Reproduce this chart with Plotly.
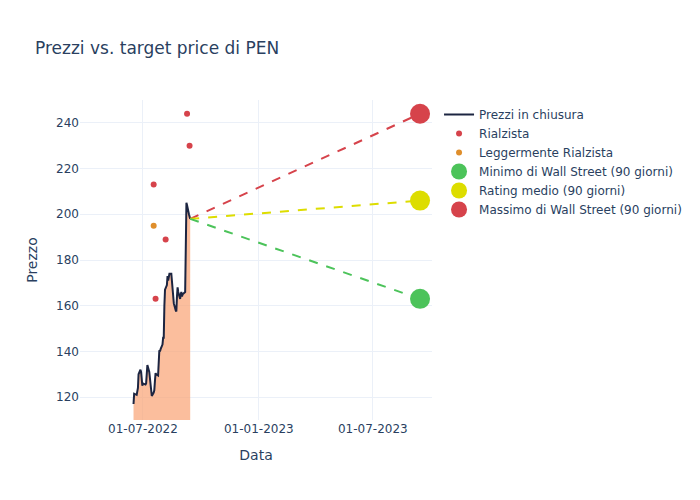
import plotly.graph_objects as go

price_dates = ["2022-06-16","2022-06-17","2022-06-21","2022-06-22","2022-06-23","2022-06-24",
    "2022-06-27","2022-06-28","2022-06-29","2022-06-30","2022-07-01","2022-07-05","2022-07-06",
    "2022-07-07","2022-07-08","2022-07-11","2022-07-12","2022-07-13","2022-07-14","2022-07-15",
    "2022-07-18","2022-07-19","2022-07-20","2022-07-21","2022-07-22","2022-07-25","2022-07-26",
    "2022-07-27","2022-07-28","2022-07-29","2022-08-01","2022-08-02","2022-08-03","2022-08-04",
    "2022-08-05","2022-08-08","2022-08-09","2022-08-10","2022-08-11","2022-08-12","2022-08-15",
    "2022-08-16","2022-08-17","2022-08-18","2022-08-19","2022-08-22","2022-08-23","2022-08-24",
    "2022-08-25","2022-08-26","2022-08-29","2022-08-30","2022-08-31","2022-09-01","2022-09-02",
    "2022-09-06","2022-09-07","2022-09-08","2022-09-09","2022-09-12","2022-09-13","2022-09-14"]
price_values = [117,121.5,121,123,124,130,
    132,131,127,125,126,125.5,126,
    130,134,131,128,125,121,120.5,
    122,123,127,130.5,130,129.5,134,
    140.5,140,141,143,146,146,160,
    167,169,173,171,172,174,174,
    170,166,163,161,158,157.5,164,
    168,166,163,165,166,164,165,
    166,186,205,204,200,198,198]

bull_dates = ["2022-09-09","2022-09-13","2022-07-18","2022-08-06","2022-07-21"]
bull_values = [244,230,213,189,163]
mild_dates = ["2022-07-18"]
mild_values = [195]

target_date = "2023-09-14"
target_min = 163
target_avg = 206
target_max = 244

RED = "#d6434b"
GREEN = "#4cc35a"
YELLOW = "#dddd00"
ORANGE = "#df8e2b"

fig = go.Figure()
fig.add_trace(go.Scatter(x=price_dates, y=price_values, mode="none", showlegend=False,
    fill="tozeroy", fillcolor="rgba(250,162,115,0.7)", hoverinfo="skip"))
fig.add_trace(go.Scatter(x=price_dates, y=price_values, mode="lines", name="Prezzi in chiusura",
    line=dict(color="#1c2541", width=2)))
fig.add_trace(go.Scatter(x=bull_dates, y=bull_values, mode="markers", name="Rialzista",
    marker=dict(color=RED, size=6)))
fig.add_trace(go.Scatter(x=mild_dates, y=mild_values, mode="markers", name="Leggermente Rialzista",
    marker=dict(color=ORANGE, size=6)))
last_d = price_dates[-1]
last_v = price_values[-1]
for tv, col in [(target_max, RED), (target_avg, YELLOW), (target_min, GREEN)]:
    fig.add_trace(go.Scatter(x=[last_d, target_date], y=[last_v, tv], mode="lines",
        line=dict(color=col, width=2, dash="dash"), showlegend=False, hoverinfo="skip"))
fig.add_trace(go.Scatter(x=[target_date], y=[target_min], mode="markers", name="Minimo di Wall Street (90 giorni)",
    marker=dict(color=GREEN, size=20)))
fig.add_trace(go.Scatter(x=[target_date], y=[target_avg], mode="markers", name="Rating medio (90 giorni)",
    marker=dict(color=YELLOW, size=20)))
fig.add_trace(go.Scatter(x=[target_date], y=[target_max], mode="markers", name="Massimo di Wall Street (90 giorni)",
    marker=dict(color=RED, size=20)))

fig.update_layout(
    template="plotly_white",
    width=700, height=500,
    margin=dict(l=72, r=276, t=92, b=88, autoexpand=False),
    font=dict(family="DejaVu Sans"),
    title=dict(text="Prezzi vs. target price di PEN", x=27/700),
    xaxis=dict(title="Data", tickformat="%d-%m-%Y", range=["2022-03-23", "2023-10-03"], dtick="M6",
               tick0="2022-01-01"),
    yaxis=dict(title="Prezzo", range=[110, 250]),
)
fig.write_html("out.html")
